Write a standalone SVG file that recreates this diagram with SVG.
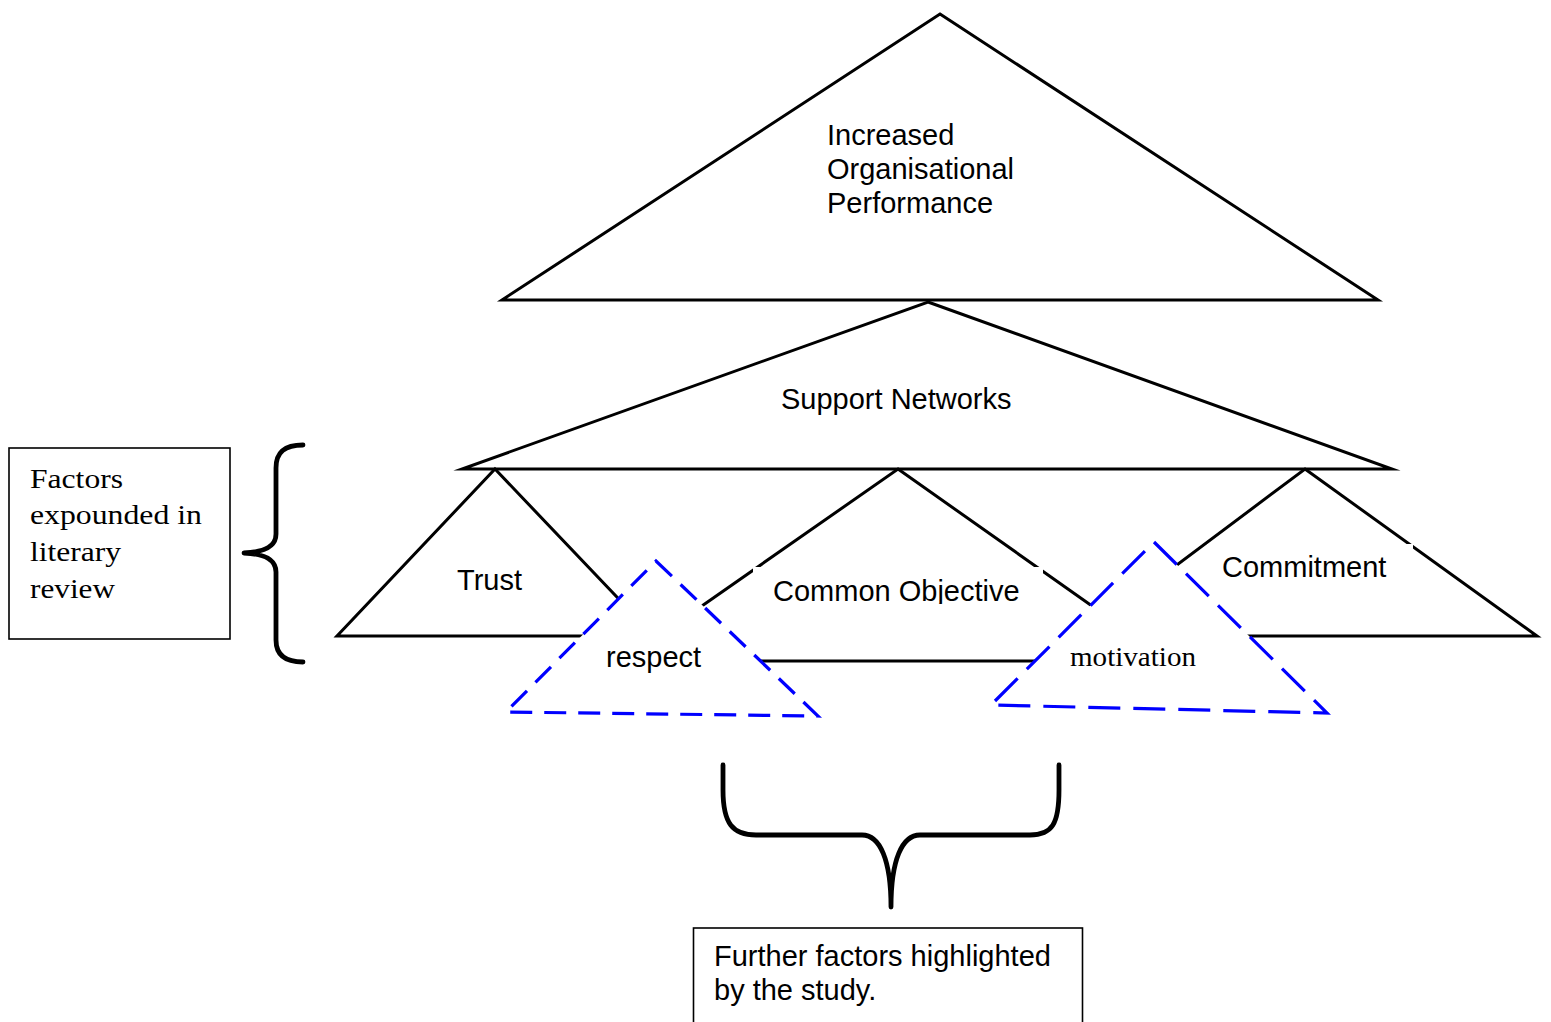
<svg xmlns="http://www.w3.org/2000/svg" width="1551" height="1022" viewBox="0 0 1551 1022">
<style>
.tri{fill:none;stroke:#000;stroke-width:3;stroke-linejoin:miter;stroke-miterlimit:20}
.trw{fill:#fff;stroke:#000;stroke-width:3;stroke-linejoin:miter;stroke-miterlimit:20}
.blue{fill:#fff;stroke:#0000ff;stroke-width:3.2;stroke-linejoin:miter}
.bg{fill:#fff;stroke:none}
.box{fill:#fff;stroke:#000;stroke-width:1.6}
.brace{fill:none;stroke:#000;stroke-width:4.8;stroke-linecap:round;stroke-linejoin:round}
.sans{font-family:"Liberation Sans",Arial,sans-serif;font-size:29px;fill:#000}
.serif{font-family:"Liberation Serif","Times New Roman",serif;font-size:28px;fill:#000}
</style>
<rect width="1551" height="1022" fill="#fff"/>
<g id="performance">
<polygon class="trw" points="940,14 1378,300 502,300"/>
<text class="sans" x="827" y="145">Increased</text>
<text class="sans" x="827" y="179">Organisational</text>
<text class="sans" x="827" y="213">Performance</text>
</g>
<g id="support-networks">
<polygon class="tri" points="928,302 1392,469 462,469"/>
<text class="sans" x="781" y="409">Support Networks</text>
</g>
<g id="trust">
<polygon class="tri" points="495,469 654,636 337,636"/>
<text class="sans" x="457" y="590">Trust</text>
</g>
<g id="common-objective">
<polygon class="tri" points="898,469 1170,661 623,661"/>
<rect class="bg" x="753" y="567" width="290" height="37"/>
</g>
<g id="commitment">
<polygon class="tri" points="1305,469 1537,636 1082,636"/>
<rect class="bg" x="1207" y="544" width="206" height="50"/>
<text class="sans" x="1222" y="577">Commitment</text>
</g>
<g id="respect">
<polygon class="blue" points="656,561 818,716 506,712" stroke-dasharray="22 12"/>
<text class="sans" x="606" y="667">respect</text>
</g>
<g id="motivation">
<polygon class="blue" points="1154,542 1327,713 991,705" stroke-dasharray="32 13" stroke-width="3.5"/>
<text class="serif" x="1070" y="666" textLength="126" lengthAdjust="spacingAndGlyphs">motivation</text>
</g>
<g id="common-objective-label">
<svg x="753" y="560" width="290" height="44" overflow="hidden">
<text class="sans" x="20" y="41">Common Objective</text>
</svg>
</g>
<g id="literary-review">
<rect class="box" x="9" y="448" width="221" height="191"/>
<text class="serif" font-size="31" x="30" y="488" textLength="93" lengthAdjust="spacingAndGlyphs">Factors</text>
<text class="serif" font-size="31" x="30" y="524" textLength="172" lengthAdjust="spacingAndGlyphs">expounded in</text>
<text class="serif" font-size="31" x="30" y="561" textLength="91" lengthAdjust="spacingAndGlyphs">literary</text>
<text class="serif" font-size="31" x="30" y="598" textLength="85" lengthAdjust="spacingAndGlyphs">review</text>
</g>
<g id="further-factors">
<rect class="box" x="693.5" y="928" width="389" height="110"/>
<text class="sans" x="714" y="966">Further factors highlighted</text>
<text class="sans" x="714" y="1000">by the study.</text>
</g>
<g id="connectors">
<path class="brace" d="M303,445 C285,445 276,452 276,468 L276,534 C276,546 266,552 244,553 C266,554 276,560 276,572 L276,640 C276,655 285,662 303,662"/>
<path class="brace" stroke-width="5" d="M723,765 L723,790 C723,824 733,835 756,835 L862,835 C880,835 891,860 891,907 C891,860 902,835 920,835 L1030,835 C1052,835 1059,824 1059,790 L1059,765"/>
</g>
</svg>
